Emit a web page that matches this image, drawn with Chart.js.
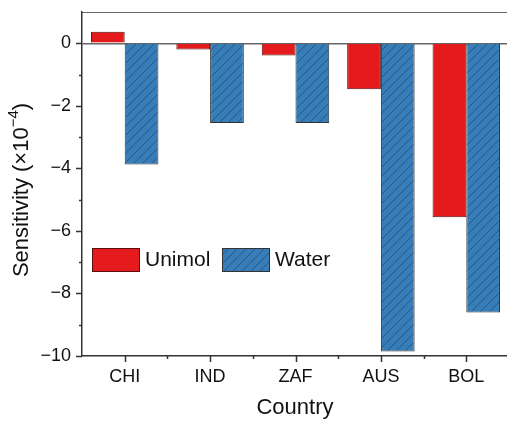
<!DOCTYPE html>
<html>
<head>
<meta charset="utf-8">
<script src="https://cdn.jsdelivr.net/npm/chart.js@4/dist/chart.umd.min.js"></script>
<style>
  html, body { margin: 0; padding: 0; background: #fff; overflow: hidden; }
  #wrap { width: 512px; height: 421px; }
</style>
</head>
<body>
<div id="wrap"><canvas id="c" width="512" height="421"></canvas></div>
<script>
// Sensitivity per country (units of 1e-4)
const categories = ['CHI', 'IND', 'ZAF', 'AUS', 'BOL'];
const seriesNames = ['Unimol', 'Water'];
const unimolValues = [0.37, -0.2, -0.39, -1.47, -5.56];
const waterValues = [-3.88, -2.55, -2.55, -9.86, -8.61];
const yTicks = [0, -2, -4, -6, -8, -10];

const FONT = "'Liberation Sans', Arial, sans-serif";
const RED = '#E41A1C';
const BLUE = '#377EB8';
const AXIS = '#333333';

// diagonal hatch fill for the Water bars
function hatch() {
  const s = 9;
  const p = document.createElement('canvas');
  p.width = s; p.height = s;
  const g = p.getContext('2d');
  g.fillStyle = BLUE;
  g.fillRect(0, 0, s, s);
  g.strokeStyle = 'rgba(20,45,80,0.7)';
  g.lineWidth = 0.7;
  g.beginPath();
  g.moveTo(-1, s + 1); g.lineTo(s + 1, -1);
  g.moveTo(-1, 1); g.lineTo(1, -1);
  g.moveTo(s - 1, s + 1); g.lineTo(s + 1, s - 1);
  g.stroke();
  return g.createPattern(p, 'repeat');
}

const minus = v => (v < 0 ? '\u2212' + Math.abs(v) : String(v));

// tick marks (major + minor), frame line, titles and inset legend
const decorations = {
  id: 'decorations',
  afterDraw(chart) {
    const ctx = chart.ctx;
    const a = chart.chartArea;
    const x = chart.scales.x, y = chart.scales.y;
    ctx.save();
    ctx.strokeStyle = AXIS;
    ctx.lineWidth = 1.5;
    ctx.beginPath();
    for (let v = 0; v >= -10; v--) {
      const py = Math.round(y.getPixelForValue(v)) + 0.5;
      const len = v % 2 === 0 ? 6 : 3;
      ctx.moveTo(a.left, py); ctx.lineTo(a.left - len, py);
    }
    const n = categories.length;
    for (let i = 0; i < n; i++) {
      const px = Math.round(x.getPixelForValue(i)) + 0.5;
      ctx.moveTo(px, a.bottom); ctx.lineTo(px, a.bottom + 6);
      if (i < n - 1) {
        const mx = Math.round((x.getPixelForValue(i) + x.getPixelForValue(i + 1)) / 2) + 0.5;
        ctx.moveTo(mx, a.bottom); ctx.lineTo(mx, a.bottom + 3);
      }
    }
    ctx.stroke();
    // top frame
    ctx.strokeStyle = '#666';
    ctx.lineWidth = 1.2;
    ctx.beginPath();
    ctx.moveTo(a.left, a.top + 0.5); ctx.lineTo(a.right, a.top + 0.5);
    ctx.stroke();

    // axis titles
    ctx.fillStyle = '#111';
    ctx.textBaseline = 'middle';
    ctx.textAlign = 'center';
    ctx.font = '22px ' + FONT;
    ctx.fillText('Country', 295, 408);

    ctx.save();
    ctx.translate(22, 190);
    ctx.rotate(-Math.PI / 2);
    const main = 'Sensitivity (\u00d710';
    const sup = '\u22124';
    ctx.font = '22px ' + FONT;
    const w1 = ctx.measureText(main).width;
    const w3 = ctx.measureText(')').width;
    ctx.font = '15px ' + FONT;
    const w2 = ctx.measureText(sup).width;
    let sx = -(w1 + w2 + w3) / 2;
    ctx.textAlign = 'left';
    ctx.font = '22px ' + FONT;
    ctx.fillText(main, sx, 0);
    ctx.font = '15px ' + FONT;
    ctx.fillText(sup, sx + w1, -8);
    ctx.font = '22px ' + FONT;
    ctx.fillText(')', sx + w1 + w2, 0);
    ctx.restore();

    // legend
    const items = [
      { x: 92, ds: chart.data.datasets[0] },
      { x: 222, ds: chart.data.datasets[1] }
    ];
    ctx.font = '21px ' + FONT;
    ctx.textAlign = 'left';
    items.forEach(it => {
      ctx.fillStyle = it.ds.backgroundColor;
      ctx.fillRect(it.x, 248, 47, 23);
      ctx.strokeStyle = it.ds.borderColor;
      ctx.lineWidth = 1;
      ctx.strokeRect(it.x + 0.5, 248.5, 47, 23);
      ctx.fillStyle = '#111';
      ctx.fillText(it.ds.label, it.x + 53, 260);
    });
    ctx.restore();
  }
};

new Chart(document.getElementById('c'), {
  type: 'bar',
  data: {
    labels: categories,
    datasets: [
      { label: seriesNames[0], data: unimolValues, backgroundColor: RED, borderColor: '#5a1010', borderWidth: 1 },
      { label: seriesNames[1], data: waterValues, backgroundColor: hatch(), borderColor: '#333', borderWidth: 1 }
    ]
  },
  options: {
    responsive: false,
    animation: false,
    layout: { padding: { top: 12, right: 3, left: 0, bottom: 0 } },
    datasets: { bar: { categoryPercentage: 0.79, barPercentage: 1.0 } },
    plugins: { legend: { display: false }, tooltip: { enabled: false } },
    scales: {
      x: {
        grid: { display: false, drawTicks: false },
        border: { display: true, color: AXIS, width: 1.5 },
        ticks: { color: '#111', font: { family: FONT, size: 18 }, padding: 10, maxRotation: 0 },
        afterFit(s) { s.height = 65; s.paddingLeft = 0; s.paddingRight = 0; }
      },
      y: {
        min: -10, max: 1,
        grid: {
          drawTicks: false,
          color: c => (c.tick && c.tick.value === 0 ? '#666' : 'rgba(0,0,0,0)'),
          lineWidth: 1.5
        },
        border: { display: true, color: AXIS, width: 1.5 },
        afterBuildTicks(s) { s.ticks = yTicks.map(v => ({ value: v })); },
        ticks: {
          color: '#111', font: { family: FONT, size: 18 }, padding: 11,
          callback: v => minus(v)
        },
        afterFit(s) { s.width = 82; s.paddingTop = 0; s.paddingBottom = 0; }
      }
    }
  },
  plugins: [decorations]
});
</script>
</body>
</html>
